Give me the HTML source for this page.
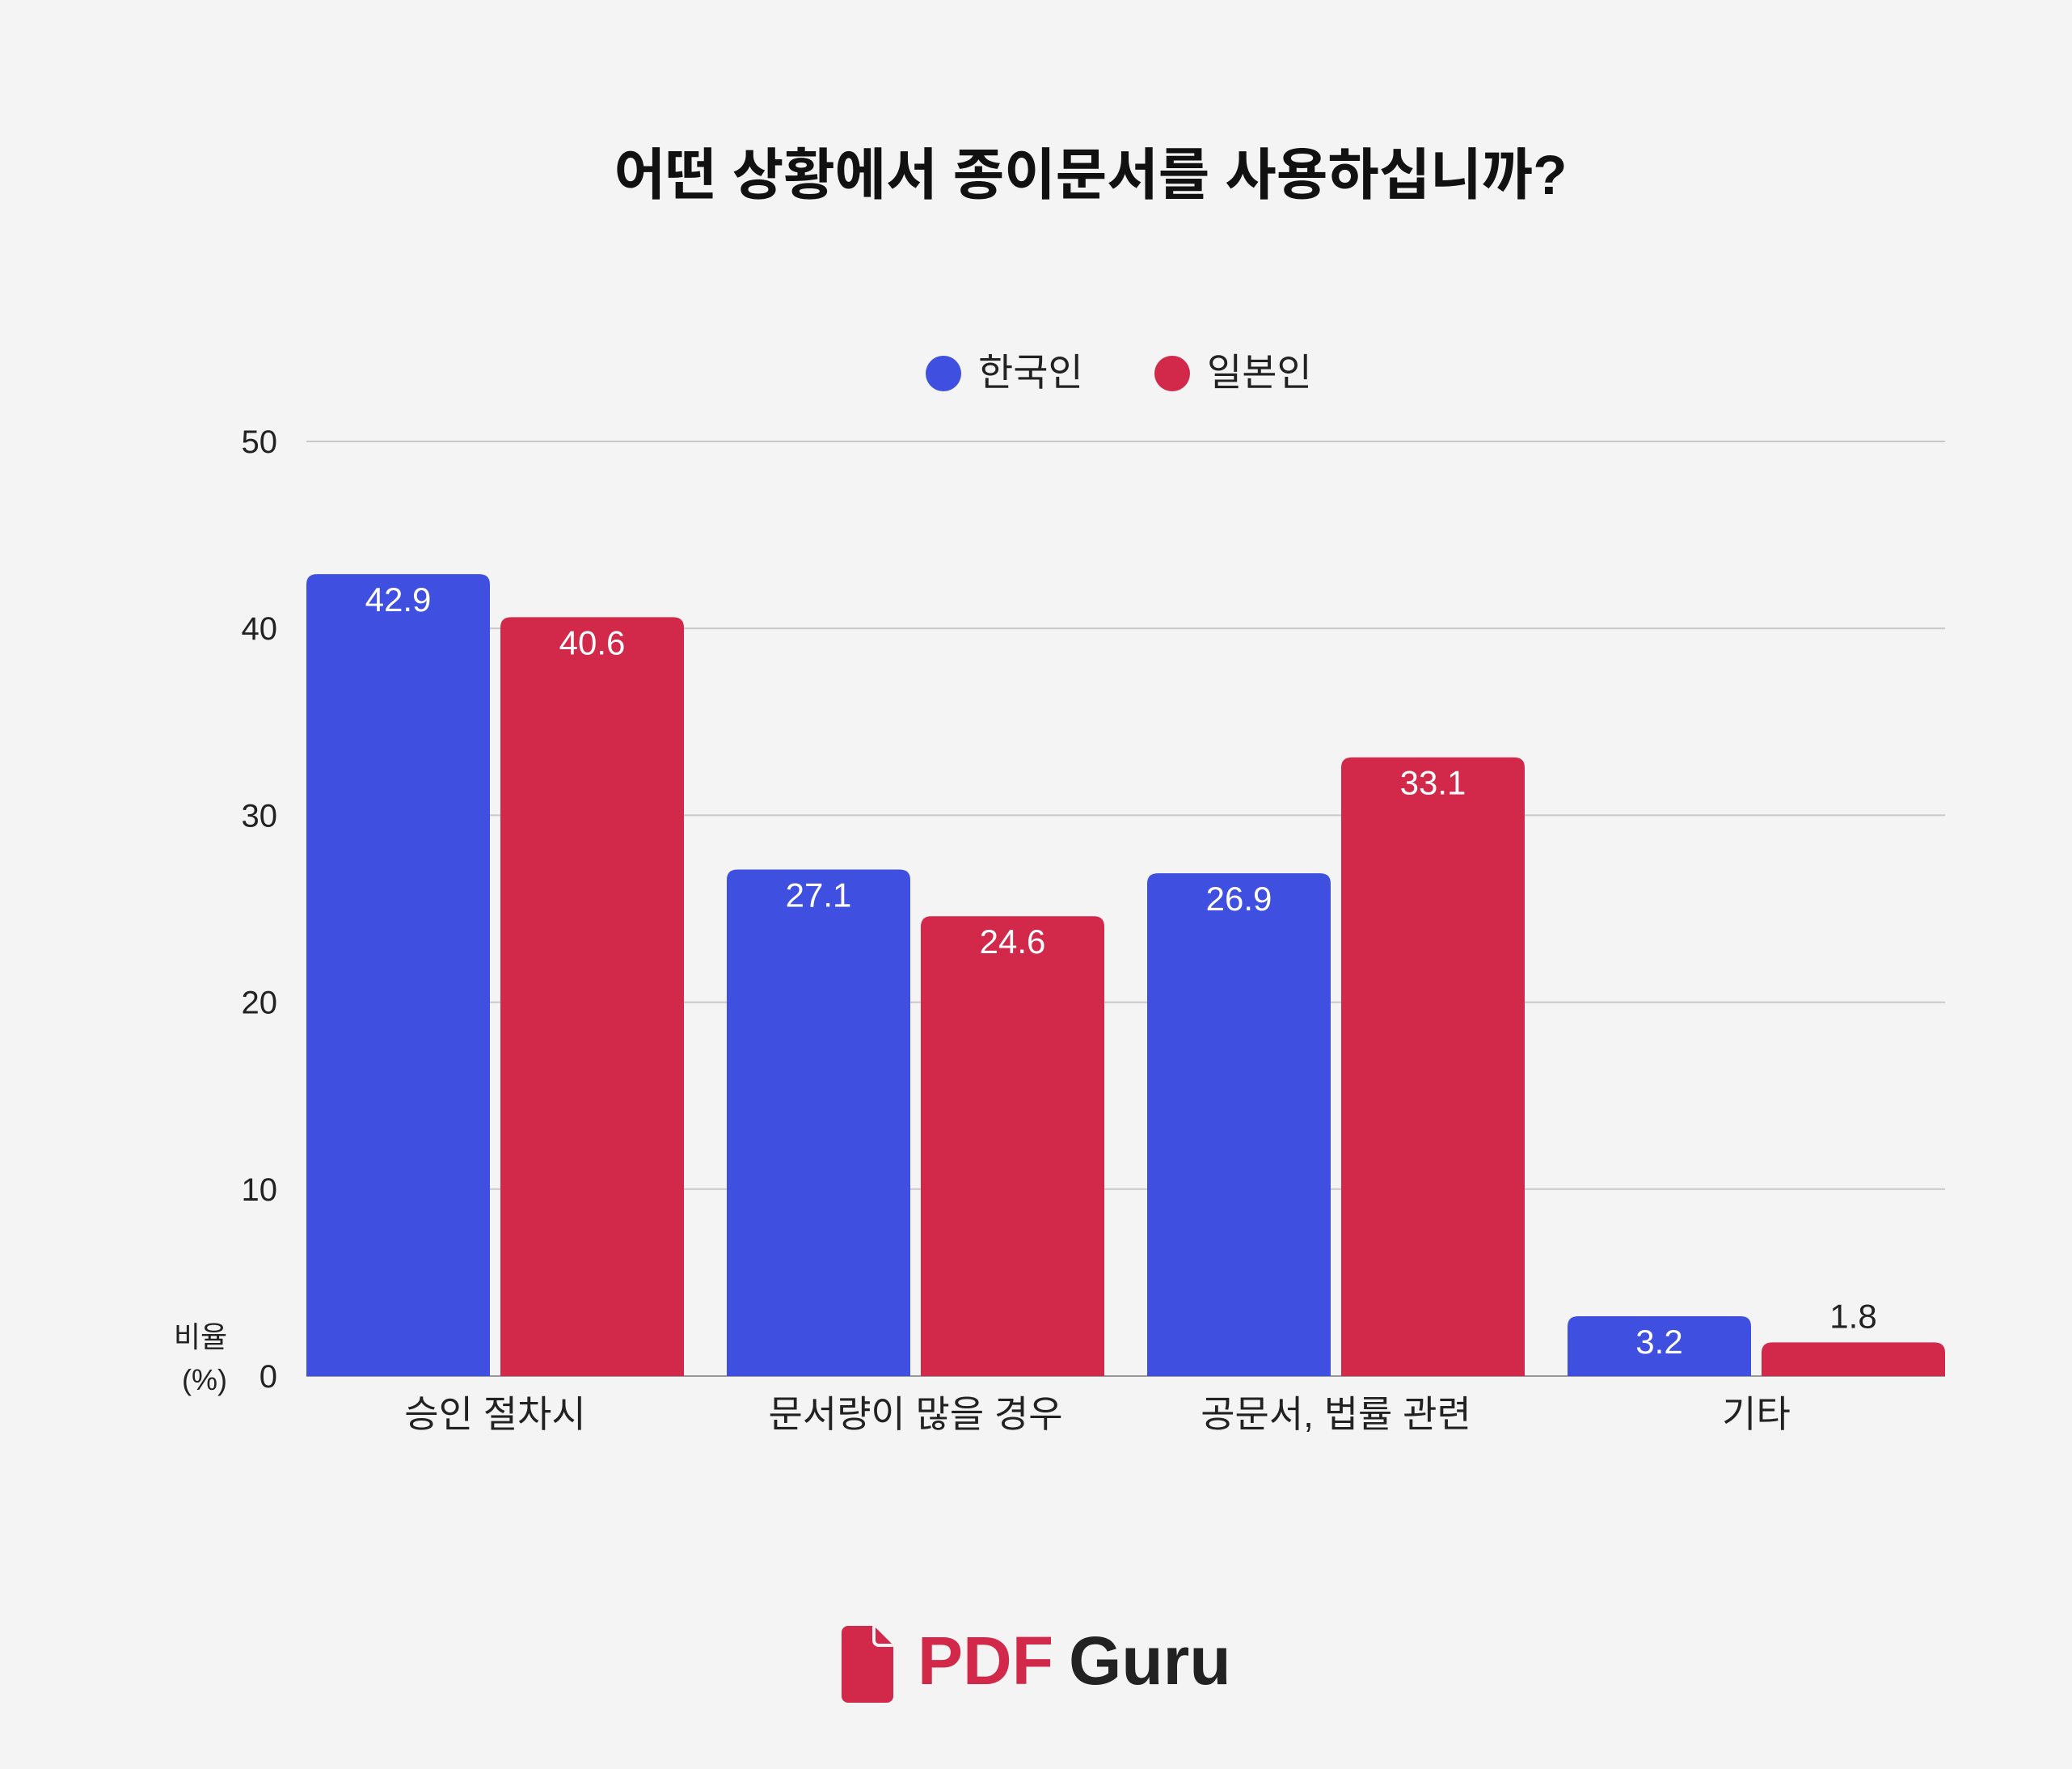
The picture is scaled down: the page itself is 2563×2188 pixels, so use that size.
<!DOCTYPE html>
<html><head><meta charset="utf-8">
<style>
html,body{margin:0;padding:0;background:#f4f4f4;}
svg{display:block;font-family:"Liberation Sans","Noto Sans CJK KR",sans-serif;}
</style></head>
<body>
<svg id="chart" width="2563" height="2188" viewBox="0 0 2563 2188" xmlns="http://www.w3.org/2000/svg">
<rect width="2563" height="2188" fill="#f4f4f4"/>
<text x="1349" y="240" text-anchor="middle" font-size="69" font-weight="bold" fill="#111">어떤 상황에서 종이문서를 사용하십니까?</text>
<g>
<g>
<circle cx="1167" cy="462" r="22" fill="#3f4fe0"/>
<text x="1210" y="477" font-size="47" fill="#222">한국인</text>
</g>
<g>
<circle cx="1450" cy="462" r="22" fill="#d2294a"/>
<text x="1493" y="477" font-size="47" fill="#222">일본인</text>
</g>
</g>
<g id="grid"></g>
<g id="bars"></g>
<g id="labels"></g>
<text x="248" y="1666" text-anchor="middle" font-size="36" fill="#222">비율</text>
<text x="253" y="1719" text-anchor="middle" font-size="36" fill="#222">(%)</text>
<g>
<path d="M1049 2011 h30 l26 26 v61 a8 8 0 0 1 -8 8 h-48 a8 8 0 0 1 -8 -8 v-79 a8 8 0 0 1 8 -8z" fill="#d2294a"/>
<path d="M1079 2011 v18 a8 8 0 0 0 8 8 h18z" fill="#f4f4f4"/>
<path d="M1083 2013 l20 20 h-16 a4 4 0 0 1 -4 -4z" fill="#d2294a"/>
<text x="1135" y="2083" font-size="84" font-weight="bold" fill="#d2294a">PDF</text>
<text x="1322" y="2083" font-size="84" font-weight="bold" fill="#222">Guru</text>
</g>
</svg>
<script>
const categories=["승인 절차시","문서량이 많을 경우","공문서, 법률 관련","기타"];
const koreanValues=[42.9,27.1,26.9,3.2];
const japaneseValues=[40.6,24.6,33.1,1.8];
const yTicks=[0,10,20,30,40,50];
const NS="http://www.w3.org/2000/svg";
const left=379,right=2406,yTop=546,yBottom=1702,yMax=50;
const step=520,barW=227,redOff=240;
function y(v){return yBottom-(v/yMax)*(yBottom-yTop);}
function gx(i){return left+i*step;}
function mk(tag,attrs,parent){const e=document.createElementNS(NS,tag);for(const k in attrs)e.setAttribute(k,attrs[k]);parent.appendChild(e);return e;}
const grid=document.getElementById('grid'),bars=document.getElementById('bars'),labels=document.getElementById('labels');
yTicks.forEach(t=>{
 const l=mk('line',{x1:left,x2:right,y1:y(t),y2:y(t),stroke:t===0?'#999':'#c8c8c8','stroke-width':2},grid);
 
 
 const tx=mk('text',{x:343,y:y(t)+14,'text-anchor':'end','font-size':40,fill:'#222'},grid);
 tx.textContent=t;
 
 
});
function bar(x,v,color,name){
 const top=y(v),h=yBottom-top,r=Math.min(13,h);
 const p=mk('path',{d:`M${x} ${yBottom} V${top+r} Q${x} ${top} ${x+r} ${top} H${x+barW-r} Q${x+barW} ${top} ${x+barW} ${top+r} V${yBottom} Z`,fill:color},bars);
 
 
 const inside=h>50;
 const t=mk('text',{x:x+barW/2,y:inside?top+46:top-18,'text-anchor':'middle','font-size':42,fill:inside?'#fff':'#222'},bars);
 t.textContent=v;
 
 
}
categories.forEach((c,i)=>{
 bar(gx(i),koreanValues[i],'#3f4fe0','bar-korean-'+i);
 bar(gx(i)+redOff,japaneseValues[i],'#d2294a','bar-japanese-'+i);
 const t=mk('text',{x:gx(i)+(redOff+barW)/2,y:1765,'text-anchor':'middle','font-size':46,fill:'#222'},labels);
 t.textContent=c;
 
 
});
</script>
</body></html>
